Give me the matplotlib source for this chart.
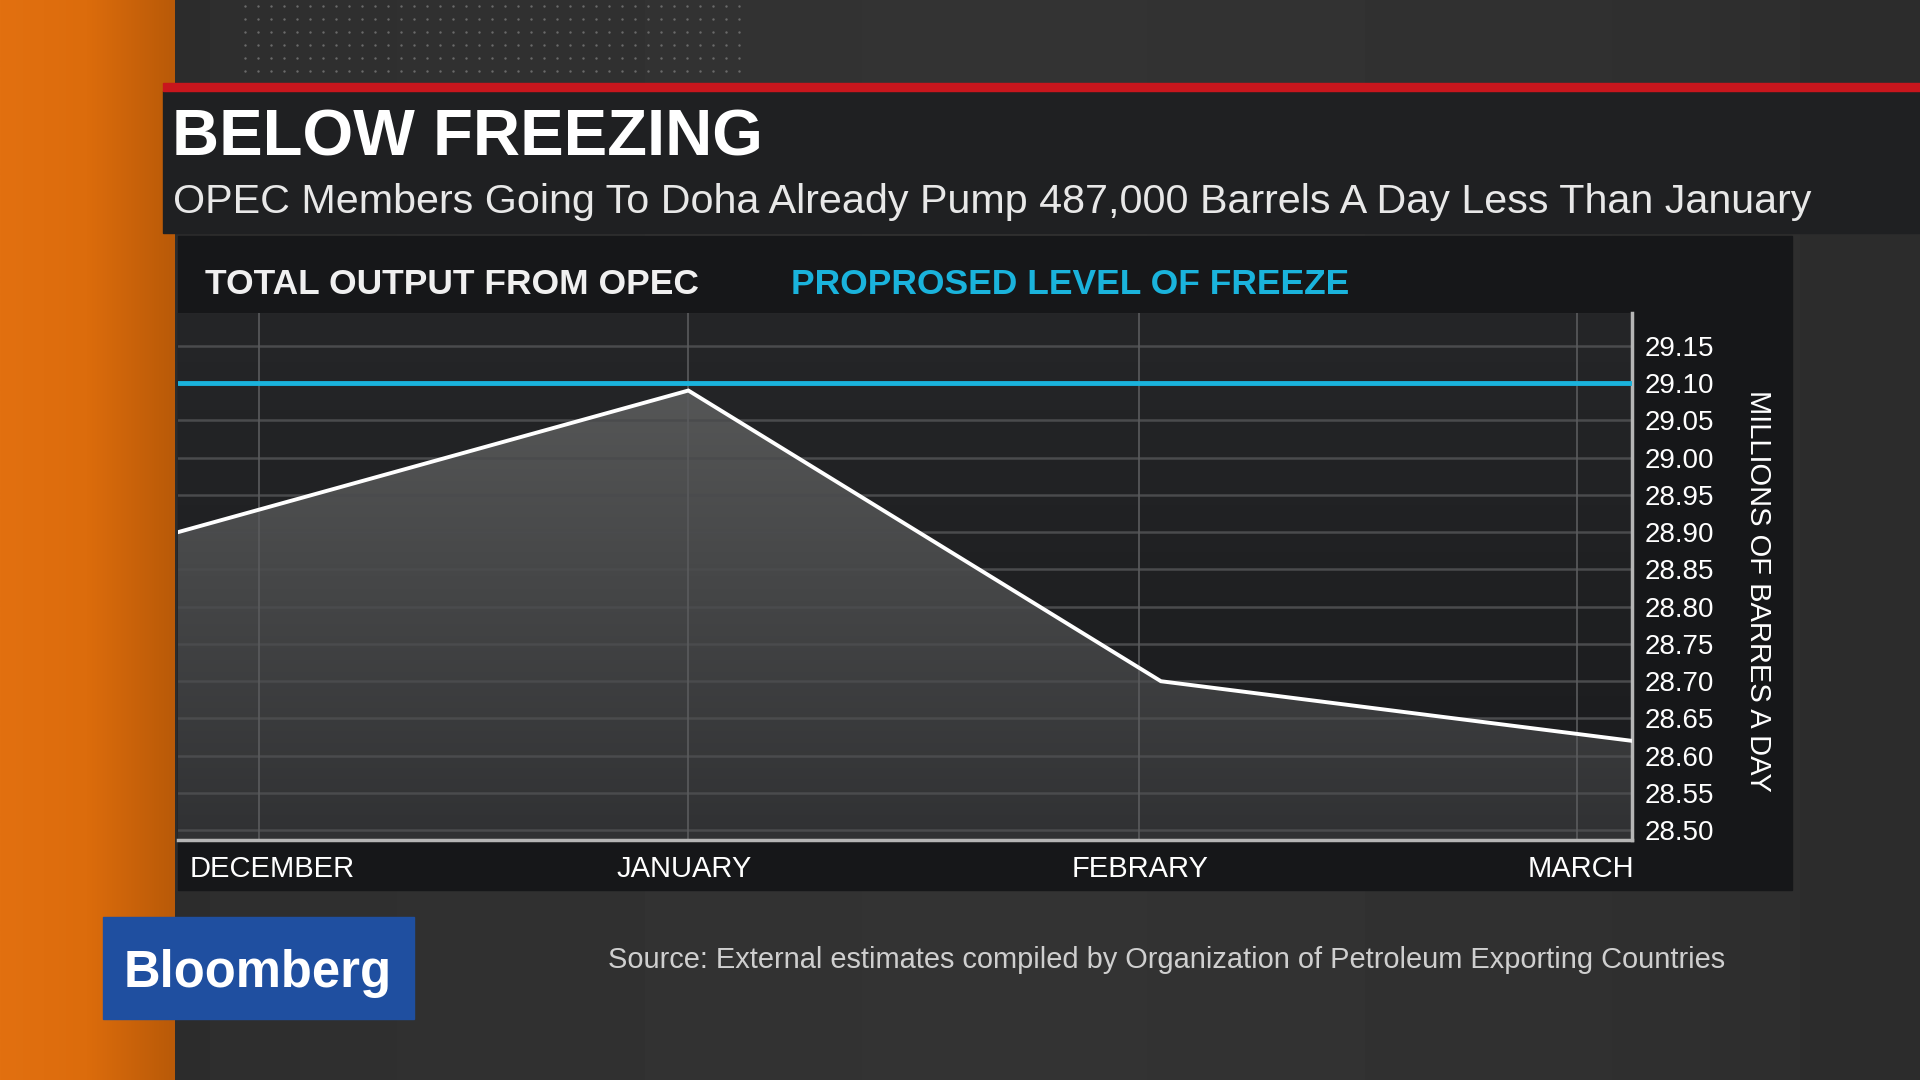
import numpy as np
import matplotlib
matplotlib.use("Agg")
from matplotlib import pyplot as plt
from matplotlib.patches import Rectangle, Polygon

# data
months = ["DECEMBER", "JANUARY", "FEBRARY", "MARCH"]
month_pos = [0.056, 0.351, 0.661, 0.962]     # month gridlines
label_pos = [0.065, 0.348, 0.662, 0.965]     # month labels
point_pos = [0.0, 0.351, 0.676, 1.0]          # data points
output = [28.90, 29.09, 28.70, 28.62]         # total OPEC output, mb/d
freeze_level = 29.10
yticks = [28.50, 28.55, 28.60, 28.65, 28.70, 28.75, 28.80, 28.85,
          28.90, 28.95, 29.00, 29.05, 29.10, 29.15]

W, H = 1920, 1080
fig = plt.figure(figsize=(19.2, 10.8), dpi=100)
plt.rcParams["font.family"] = ["Liberation Sans", "DejaVu Sans"]

def fx(x):
    return x / W

def fy(y):
    return 1 - y / H

def rect(x0, y0, x1, y1, **kw):
    fig.patches.append(Rectangle((fx(x0), fy(y1)), fx(x1 - x0), (y1 - y0) / H,
                                 transform=fig.transFigure, **kw))

# background
bg = fig.add_axes([0, 0, 1, 1], zorder=-10)
bg.axis("off")
g = np.linspace(0, 1, 256)
grad = np.outer(np.ones(10), 0.17 + 0.03 * np.sin(g * 3.0))
bg.imshow(grad, cmap="gray", vmin=0, vmax=1, aspect="auto", extent=[0, 1, 0, 1])
bg.set_xlim(0, 1)
bg.set_ylim(0, 1)

# halftone dots at the top
xs, ys = np.meshgrid(np.arange(245, 740, 13), np.arange(6, 80, 13))
bg.scatter(fx(xs.ravel()), fy(ys.ravel()), s=3, color="#6a6a6a", lw=0)

# orange strip
orange = np.outer(np.ones(10), np.linspace(0, 1, 100))
bg.imshow(orange, cmap=matplotlib.colors.LinearSegmentedColormap.from_list(
    "o", ["#e27010", "#dc6c0c", "#b95a08"]), aspect="auto",
    extent=[0, fx(175), 0, 1], zorder=2)

# title panel and red rule
rect(163, 91, 1920, 233, color="#1f2022", zorder=3)
rect(163, 83, 1920, 91, color="#c8161d", zorder=4)
# chart panel
rect(178, 236, 1792, 890, color="#161719", zorder=3)

fig.text(fx(172), fy(138), "BELOW FREEZING", fontsize=47, fontweight="bold",
         color="white", va="center", ha="left", zorder=5)
fig.text(fx(173), fy(202), "OPEC Members Going To Doha Already Pump 487,000 Barrels A Day Less Than January",
         fontsize=29.7, color="#e8e8e8", va="center", ha="left", zorder=5)

fig.text(fx(205), fy(284), "TOTAL OUTPUT FROM OPEC", fontsize=25.5, fontweight="bold",
         color="#f0f0f0", va="center", ha="left", zorder=5)
fig.text(fx(791), fy(284), "PROPROSED LEVEL OF FREEZE", fontsize=25.5, fontweight="bold",
         color="#1ab3dc", va="center", ha="left", zorder=5)

# plot area
ax = fig.add_axes([fx(178), fy(840), fx(1632 - 178), (840 - 313) / H], zorder=6)
ylo, yhi = 28.487, 29.194
ax.set_xlim(0, 1)
ax.set_ylim(ylo, yhi)

# background gradient of the plot
pg = np.linspace(1, 0, 256).reshape(-1, 1)
ax.imshow(pg, cmap=matplotlib.colors.LinearSegmentedColormap.from_list(
    "p", ["#1a1b1d", "#252628"]), aspect="auto", extent=[0, 1, ylo, yhi], zorder=0)

# gradient fill under the output line
verts = [(point_pos[0], ylo)] + list(zip(point_pos, output)) + [(point_pos[-1], ylo)]
poly = Polygon(verts, closed=True, facecolor="none", edgecolor="none")
ax.add_patch(poly)
fill = ax.imshow(pg, cmap=matplotlib.colors.LinearSegmentedColormap.from_list(
    "f", ["#303133", "#5c5d5d"]), aspect="auto", extent=[0, 1, ylo, yhi], zorder=1)
fill.set_clip_path(poly)

for v in yticks:
    ax.axhline(v, color="#4a4b4d", lw=1.8, zorder=2)
for m in month_pos:
    ax.axvline(m, color="#5a5b5d", lw=1.2, zorder=2)

ax.axhline(freeze_level, color="#1ab3dc", lw=3.5, zorder=3)
ax.plot(point_pos, output, color="white", lw=2.8, zorder=4, solid_joinstyle="miter")

for s in ["top", "left"]:
    ax.spines[s].set_visible(False)
ax.spines["bottom"].set_color("#b5b5b5")
ax.spines["bottom"].set_linewidth(2.5)
ax.spines["right"].set_color("#b5b5b5")
ax.spines["right"].set_linewidth(2.5)

ax.yaxis.tick_right()
ax.set_yticks(yticks)
ax.set_yticklabels([f"{v:.2f}" for v in yticks], fontsize=20, color="white")
ax.tick_params(axis="y", length=0, pad=9)
ax.set_xticks(label_pos)
ax.set_xticklabels(months, fontsize=21, color="white")
ax.tick_params(axis="x", length=0, pad=10.5)

fig.text(fx(1758), fy(591), "MILLIONS OF BARRES A DAY", rotation=-90, fontsize=21,
         color="white", va="center", ha="center", zorder=7)

# Bloomberg badge
rect(103, 917, 414, 1019, color="#1f4fa0", zorder=5)
fig.text(fx(258), fy(974), "Bloomberg", fontsize=36.5, fontweight="bold", color="white",
         va="center", ha="center", zorder=6)

fig.text(fx(608), fy(960), "Source: External estimates compiled by Organization of Petroleum Exporting Countries",
         fontsize=20.9, color="#cfcfcf", va="center", ha="left", zorder=6)

fig.savefig("out.png", dpi=100)
